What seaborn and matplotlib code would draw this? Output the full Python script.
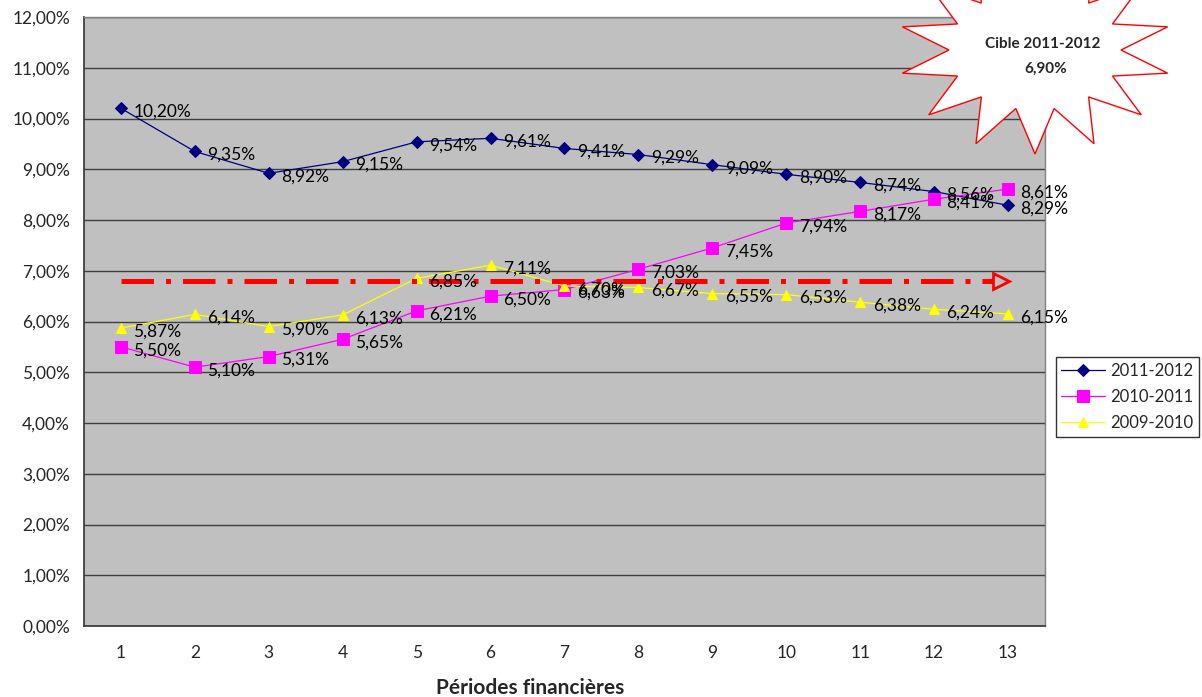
import numpy as np
import pandas as pd
import matplotlib
matplotlib.use("Agg")
import matplotlib.pyplot as plt
from matplotlib.patches import Polygon
from matplotlib.ticker import FixedLocator, FuncFormatter
import seaborn as sns

# -----------------------------
# data
# -----------------------------
periods = list(range(1, 14))
s2011_2012 = [10.20, 9.35, 8.92, 9.15, 9.54, 9.61, 9.41, 9.29, 9.09, 8.90, 8.74, 8.56, 8.29]
s2010_2011 = [5.50, 5.10, 5.31, 5.65, 6.21, 6.50, 6.63, 7.03, 7.45, 7.94, 8.17, 8.41, 8.61]
s2009_2010 = [5.87, 6.14, 5.90, 6.13, 6.85, 7.11, 6.70, 6.67, 6.55, 6.53, 6.38, 6.24, 6.15]
series_names = ["2011-2012", "2010-2011", "2009-2010"]
target_level = 6.80
target_text = ["Cible 2011-2012", "6,90%"]

df = pd.DataFrame({
    "periode": periods * 3,
    "taux": s2011_2012 + s2010_2011 + s2009_2010,
    "serie": [series_names[0]] * 13 + [series_names[1]] * 13 + [series_names[2]] * 13,
})

colors = {"2011-2012": "#000080", "2010-2011": "#FF00FF", "2009-2010": "#FFFF00"}
markers = {"2011-2012": "D", "2010-2011": "s", "2009-2010": "^"}
msizes = {"2011-2012": 6, "2010-2011": 8, "2009-2010": 7.5}

sns.set_style("white")
plt.rcParams["font.family"] = ["Lato", "DejaVu Sans"]
FS = 12.5

fig = plt.figure(figsize=(12.02, 6.97), dpi=100)
ax = fig.add_axes([84 / 1202, 71 / 697, 961 / 1202, 609 / 697])
ax.set_facecolor("#C0C0C0")

# -----------------------------
# lines
# -----------------------------
for name in series_names:
    sub = df[df["serie"] == name]
    sns.lineplot(data=sub, x="periode", y="taux", ax=ax, color=colors[name],
                 marker=markers[name], markersize=msizes[name], markeredgecolor=colors[name],
                 linewidth=0.9, label=name, zorder=3)
    for x, y in zip(sub["periode"], sub["taux"]):
        ax.annotate(f"{y:.2f}%".replace(".", ","), (x, y), xytext=(9, -2.5),
                    textcoords="offset points", fontsize=FS, color="black",
                    va="center", ha="left", zorder=5)

# target arrow line
ax.plot([1, 12.8], [target_level, target_level], color="#FF0000", lw=3.6,
        dashes=(6.5, 2.4, 1, 2.4), zorder=4, solid_capstyle="butt")
ax.plot([12.9], [target_level], marker=">", markersize=11, markerfacecolor="none",
        markeredgecolor="#FF0000", markeredgewidth=2, zorder=4, linestyle="none")

# -----------------------------
# axes
# -----------------------------
ax.set_xlim(0.5, 13.5)
ax.set_ylim(0, 12)
ax.yaxis.set_major_locator(FixedLocator(np.arange(0, 13, 1)))
ax.yaxis.set_major_formatter(FuncFormatter(lambda v, p: f"{v:.2f}%".replace(".", ",")))
ax.set_xticks(periods)
ax.set_xticks(np.arange(0.5, 14, 1), minor=True)
ax.tick_params(axis="x", which="major", length=0, pad=14, labelsize=FS)
ax.tick_params(axis="x", which="minor", length=6, width=1, color="#333333", direction="out")
ax.tick_params(axis="y", length=6, width=1, color="#333333", direction="out", labelsize=FS, pad=4)
ax.grid(axis="y", color="#404040", linewidth=1)
ax.set_axisbelow(True)
for side in ["top", "right"]:
    ax.spines[side].set_color("#808080")
    ax.spines[side].set_linewidth(1)
for side in ["left", "bottom"]:
    ax.spines[side].set_color("#333333")
    ax.spines[side].set_linewidth(1.2)
ax.set_xlabel("Périodes financières", fontsize=15, fontweight="bold")
ax.xaxis.set_label_coords((530 - 84) / 961, -(688 - 626) / 609)
ax.xaxis.label.set_va("center")
ax.set_ylabel("")

leg = ax.legend(loc="center left", bbox_to_anchor=(1.011, 0.376), fontsize=12,
                frameon=True, fancybox=False, edgecolor="black", handlelength=2.6,
                borderpad=0.35, labelspacing=0.6, handletextpad=0.3, borderaxespad=0)
leg.get_frame().set_linewidth(1)

# -----------------------------
# starburst note
# -----------------------------
cx, cy = 1035, 50
n = 14
pts = []
for i in range(2 * n):
    a = np.pi / 2 + i * np.pi / n
    rx, ry = (136, 104) if i % 2 == 0 else (86, 60)
    pts.append(((cx + rx * np.cos(a)) / 1202, 1 - (cy - ry * np.sin(a)) / 697))
star = Polygon(pts, closed=True, facecolor="white", edgecolor="#FF0000", lw=1,
               transform=fig.transFigure, zorder=10, clip_on=False)
fig.add_artist(star)
fig.text(1043 / 1202, 1 - 44 / 697, target_text[0], ha="center", va="center",
         fontsize=11, fontweight="bold", zorder=11)
fig.text(1046 / 1202, 1 - 69 / 697, target_text[1], ha="center", va="center",
         fontsize=11, fontweight="bold", zorder=11)

fig.savefig("out.png", dpi=100)
